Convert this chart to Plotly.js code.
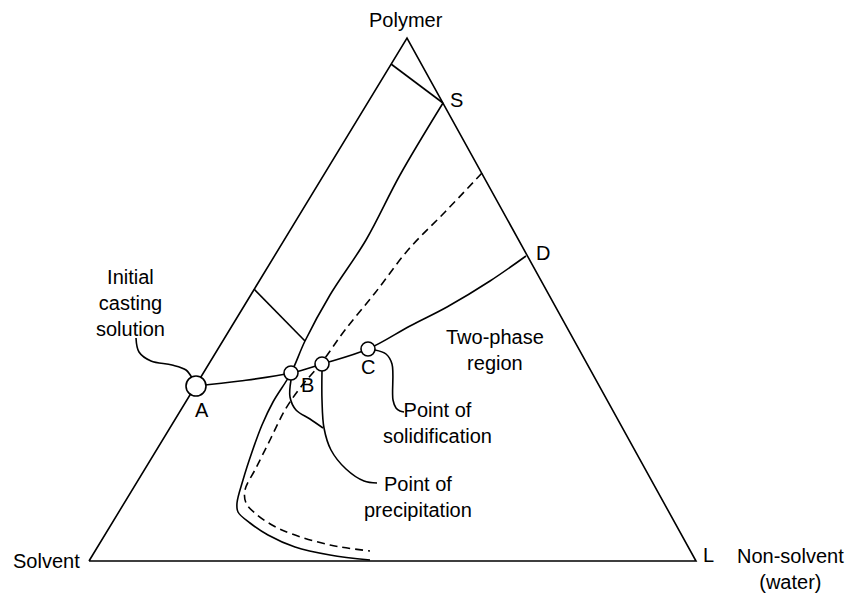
<!DOCTYPE html>
<html>
<head>
<meta charset="utf-8">
<script src="https://cdn.plot.ly/plotly-3.0.1.min.js"></script>
<style>
  html, body { margin: 0; padding: 0; background: #ffffff; }
  #chart { width: 850px; height: 594px; }
</style>
</head>
<body>
<div id="chart"></div>
<script>
// all positions are in picture units (x to the right, y downwards)
const triangleX = [89, 407, 696, 89];
const triangleY = [561, 38, 561, 561];

const tieX = [391, 443, null, 254, 305];
const tieY = [64, 103, null, 289, 341];

const binodalX = [443, 400, 366, 330, 305, 291, 273, 262, 252, 243, 237, 238, 250, 268, 295, 330, 370];
const binodalY = [103, 175, 240, 295, 341, 373, 402, 425, 452, 480, 503, 512, 523, 535, 547, 555, 560];

const dashedX = [482, 445, 408, 375, 345, 322, 300, 285, 270, 256, 245, 246, 256, 272, 292, 330, 370];
const dashedY = [173, 212, 250, 293, 330, 362, 388, 410, 440, 468, 490, 503, 514, 525, 534, 545, 551];

const pathX = [196, 240, 291, 322, 368, 410, 447, 490, 526];
const pathY = [386, 381, 373, 364, 349, 326, 307, 281, 256];

const leadInitialX = [136, 139, 151, 172, 186, 192];
const leadInitialY = [338, 352, 361, 365, 370, 378];

const leadSolidX = [375, 386, 392, 393, 396, 400, 404];
const leadSolidY = [350, 354, 364, 400, 408, 411, 412];

const leadPrecipX = [322, 322, 324, 331, 346, 364, 377];
const leadPrecipY = [371, 400, 428, 450, 469, 481, 483];
const leadPrecipBX = [291, 290, 296, 310, 323];
const leadPrecipBY = [380, 397, 410, 419, 428];

const circleX = [196, 291, 322, 368];
const circleY = [386, 373, 364, 349];
const circleSize = [20, 14, 14, 14];

const labelText = ['Polymer', 'S', 'D', 'Initial<br>casting<br>solution', 'A', 'B', 'C',
    'Two-phase<br>region', 'Point of<br>solidification', 'Point of<br>precipitation',
    'Solvent', 'L', 'Non-solvent<br>(water)'];
const labelX = [406, 456, 543, 130, 202, 307, 368, 495, 437, 418, 46, 708, 790];
const labelY = [20, 100, 253, 303, 410, 385, 367, 350, 423, 497, 561, 555, 569];

function line_trace(x, y, dash, shape) {
    return {
        x: x,
        y: y,
        type: 'scatter',
        mode: 'lines',
        hoverinfo: 'skip',
        line: {
            color: '#000000',
            width: 1.6,
            dash: dash,
            shape: shape,
            smoothing: 1
        }
    };
}

var data = [
    line_trace(triangleX, triangleY, 'solid', 'linear'),
    line_trace(tieX, tieY, 'solid', 'linear'),
    line_trace(binodalX, binodalY, 'solid', 'spline'),
    line_trace(dashedX, dashedY, '8px,5px', 'spline'),
    line_trace(pathX, pathY, 'solid', 'spline'),
    line_trace(leadInitialX, leadInitialY, 'solid', 'spline'),
    line_trace(leadSolidX, leadSolidY, 'solid', 'spline'),
    line_trace(leadPrecipX, leadPrecipY, 'solid', 'spline'),
    line_trace(leadPrecipBX, leadPrecipBY, 'solid', 'spline'),
    {
        x: circleX,
        y: circleY,
        type: 'scatter',
        mode: 'markers',
        hoverinfo: 'skip',
        marker: {
            size: circleSize,
            color: '#ffffff',
            opacity: 1,
            line: {color: '#000000', width: 1.6}
        }
    }
];

var annotations = [];
for (let i=0; i<labelText.length; i++) {
    annotations.push({
        text: labelText[i],
        x: labelX[i],
        y: labelY[i],
        xref: 'x',
        yref: 'y',
        showarrow: false,
        xanchor: 'center',
        yanchor: 'middle',
        align: 'center',
        font: {family: 'Liberation Sans, Arial, sans-serif', size: 20, color: '#000000'}
    });
}

var layout = {
    width: 850,
    height: 594,
    margin: {l: 0, r: 0, t: 0, b: 0, pad: 0},
    showlegend: false,
    paper_bgcolor: '#ffffff',
    plot_bgcolor: '#ffffff',
    xaxis: {
        range: [0, 850],
        visible: false,
        fixedrange: true
    },
    yaxis: {
        range: [594, 0],
        visible: false,
        fixedrange: true
    },
    annotations: annotations
};

Plotly.newPlot('chart', data, layout, {displayModeBar: false, staticPlot: true});
</script>
</body>
</html>
